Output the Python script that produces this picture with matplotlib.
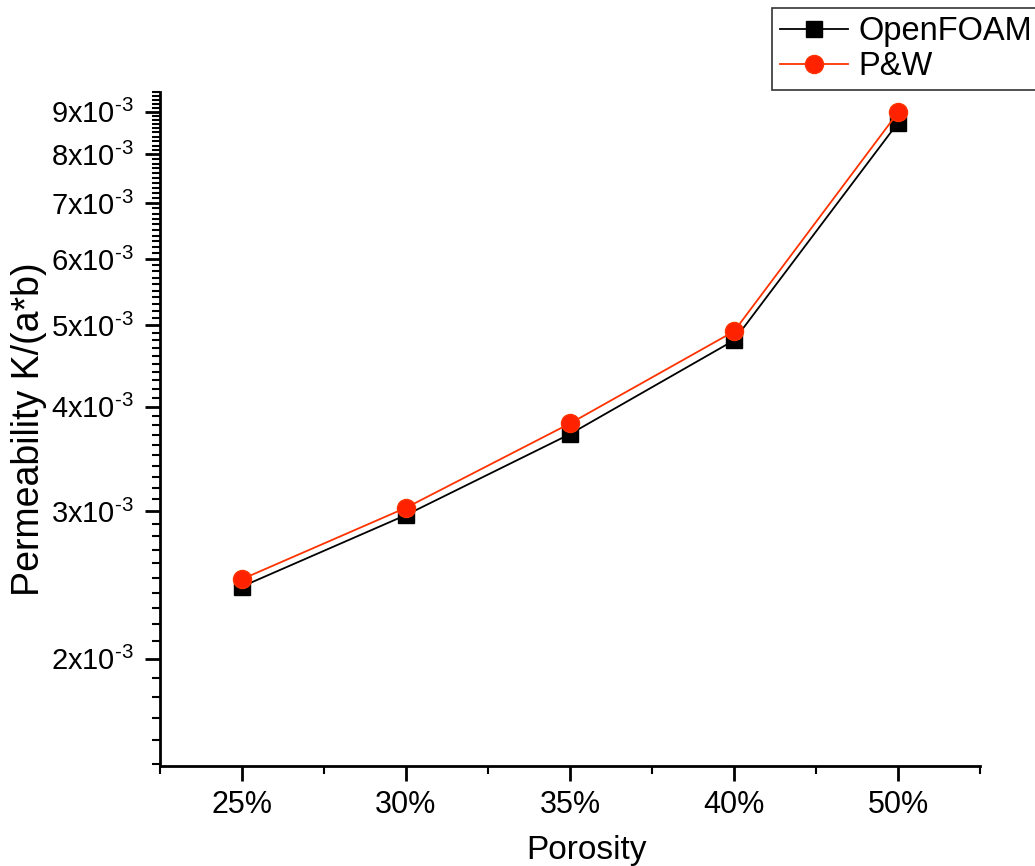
import numpy as np
import matplotlib.pyplot as plt
from matplotlib.ticker import FixedLocator, MultipleLocator, FuncFormatter

plt.rcParams['font.family'] = ['Liberation Sans', 'DejaVu Sans']
plt.rcParams['mathtext.fontset'] = 'custom'
plt.rcParams['mathtext.rm'] = 'Liberation Sans'
plt.rcParams['mathtext.it'] = 'Liberation Sans'

porosity = ['25%', '30%', '35%', '40%', '50%']
openfoam = [2.44e-3, 2.97e-3, 3.71e-3, 4.80e-3, 8.73e-3]
pw = [2.49e-3, 3.03e-3, 3.82e-3, 4.92e-3, 8.98e-3]
y_ticks = [2e-3, 3e-3, 4e-3, 5e-3, 6e-3, 7e-3, 8e-3, 9e-3]

x = np.arange(1, len(porosity) + 1)

fig = plt.figure(figsize=(10.35, 8.66), dpi=100)
ax = fig.add_axes([0.1546, 0.1155, 0.7923, 0.7783])

ax.plot(x, openfoam, color='black', lw=1.3, marker='s', ms=11,
        label='OpenFOAM')
ax.plot(x, pw, color='#ff3300', lw=1.3, marker='o', ms=13,
        markerfacecolor='#ff2200', markeredgecolor='#ff3300', label='P&W')

ax.set_yscale('log')
ax.set_ylim(1.49e-3, 9.5e-3)
ax.set_xlim(0.5, 5.5)


def sci_label(v, pos):
    # e.g. 9x10^-3 with a plain hyphen in the exponent
    return '%dx10$^{\\mathregular{\u20103}}$' % round(v * 1e3)


ax.yaxis.set_major_locator(FixedLocator(y_ticks))
ax.yaxis.set_minor_locator(MultipleLocator(1e-4))
ax.yaxis.set_major_formatter(FuncFormatter(sci_label))
ax.yaxis.set_minor_formatter(FuncFormatter(lambda v, p: ''))

ax.set_xticks(x)
ax.set_xticklabels(porosity)
ax.xaxis.set_minor_locator(FixedLocator(np.arange(0.5, 6.0, 1.0)))

for s in ['top', 'right']:
    ax.spines[s].set_visible(False)
for s in ['left', 'bottom']:
    ax.spines[s].set_linewidth(2)

ax.tick_params(which='major', direction='out', length=11, width=2,
               labelsize=22, pad=6)
ax.tick_params(axis='y', which='major', labelsize=21, pad=8)
ax.tick_params(which='minor', direction='out', length=6, width=1.5)

ax.set_xlabel('Porosity', fontsize=24)
ax.xaxis.set_label_coords(0.52, -0.102)
ax.set_ylabel('Permeability K/(a*b)', fontsize=27)
ax.yaxis.set_label_coords(-0.138, 0.5)

leg = ax.legend(loc='upper right', bbox_to_anchor=(1.073, 1.1246),
                fontsize=23.5, frameon=True, fancybox=False,
                edgecolor='black', handlelength=2.1, borderpad=0.25,
                labelspacing=0.12, handletextpad=0.3, borderaxespad=0)
leg.get_frame().set_linewidth(1.2)

fig.savefig('out.png', dpi=100)
